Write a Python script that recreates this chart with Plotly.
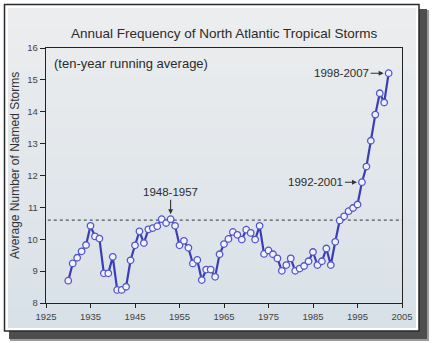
import plotly.graph_objects as go

years = list(range(1930, 2003))
storms = [8.70, 9.24, 9.42, 9.62, 9.82, 10.42, 10.09, 10.02, 8.93, 8.93,
          9.45, 8.41, 8.41, 8.51, 9.34, 9.81, 10.25, 9.88, 10.31, 10.35,
          10.41, 10.63, 10.51, 10.63, 10.42, 9.81, 9.95, 9.73, 9.24, 9.35,
          8.72, 9.05, 9.05, 8.82, 9.53, 9.85, 10.01, 10.23, 10.14, 9.99,
          10.30, 10.20, 9.99, 10.42, 9.54, 9.65, 9.53, 9.40, 9.01, 9.19,
          9.40, 9.01, 9.08, 9.16, 9.31, 9.60, 9.19, 9.31, 9.71, 9.19,
          9.92, 10.59, 10.72, 10.88, 10.98, 11.09, 11.79, 12.28, 13.09, 13.91,
          14.58, 14.29, 15.21]
long_term_mean = 10.6
x_ticks = [1925, 1935, 1945, 1955, 1965, 1975, 1985, 1995, 2005]
y_ticks = [8, 9, 10, 11, 12, 13, 14, 15, 16]
callouts = [("1948-1957", 1953, 0, -27), ("1992-2001", 1996, -46, 0), ("1998-2007", 2002, -47, 0)]

W, H = 432, 343
L, R, T, B = 46, 30, 48, 40
PW, PH = W - L - R, H - T - B

def px(x):
    return (x - L) / PW

def py(y):
    return (H - B - y) / PH

FONT = "Liberation Sans, Arial, sans-serif"

fig = go.Figure()
fig.add_trace(go.Scatter(
    x=years, y=storms, mode="lines+markers",
    line=dict(color="#3a3db8", width=2.2),
    marker=dict(symbol="circle", size=6.5, color="#f2f3ff",
                line=dict(color="#5256cc", width=1.3)),
    showlegend=False, cliponaxis=False))

shapes = []
# drop shadow
shapes.append(dict(type="rect", xref="paper", yref="paper", x0=px(10), x1=px(429), y0=py(341), y1=py(10),
                   fillcolor="#9a9a9a", line=dict(width=0), layer="below"))
shapes.append(dict(type="rect", xref="paper", yref="paper", x0=px(9), x1=px(427), y0=py(339), y1=py(9),
                   fillcolor="#4e4e4e", line=dict(width=0), layer="below"))
# frame
shapes.append(dict(type="rect", xref="paper", yref="paper", x0=px(4.5), x1=px(419), y0=py(331), y1=py(4.5),
                   fillcolor="#ffffff", line=dict(color="#2a2a2a", width=1.5), layer="below"))
# gradient panel
n = 32
top_c = (236, 237, 238)
bot_c = (216, 225, 232)
y_top, y_bot = 8.0, 328.0
for i in range(n):
    t = i / (n - 1)
    c = tuple(int(round(top_c[k] + (bot_c[k] - top_c[k]) * t)) for k in range(3))
    ya = y_top + (y_bot - y_top) * i / n
    yb = y_top + (y_bot - y_top) * (i + 1) / n + 0.6
    shapes.append(dict(type="rect", xref="paper", yref="paper", x0=px(8), x1=px(416),
                       y0=py(min(yb, y_bot)), y1=py(ya),
                       fillcolor="rgb(%d,%d,%d)" % c, line=dict(width=0), layer="below"))
# long-term mean dotted line
shapes.append(dict(type="line", xref="paper", yref="y", x0=0.005, x1=1, y0=long_term_mean, y1=long_term_mean,
                   line=dict(color="#555555", width=1.2, dash="dot"), layer="below"))

annotations = [
    dict(text="Annual Frequency of North Atlantic Tropical Storms", xref="paper", yref="paper",
         x=px(224), y=py(33), xanchor="center", yanchor="middle", showarrow=False,
         font=dict(family=FONT, size=13.5, color="#2b2b2b")),
    dict(text="(ten-year running average)", xref="paper", yref="paper",
         x=px(52), y=py(63), xanchor="left", yanchor="middle", showarrow=False,
         font=dict(family=FONT, size=13, color="#2b2b2b")),
    dict(text="Average Number of Named Storms", xref="paper", yref="paper",
         x=px(15), y=py(166), xanchor="center", yanchor="middle", showarrow=False, textangle=-90,
         font=dict(family=FONT, size=12, color="#333333")),
]
for label, yr, axp, ayp in callouts:
    annotations.append(dict(text=label, x=yr, y=storms[years.index(yr)], xref="x", yref="y",
                            ax=axp, ay=ayp, showarrow=True, arrowhead=2, arrowsize=0.9,
                            arrowwidth=1.1, arrowcolor="#333333", standoff=5,
                            font=dict(family=FONT, size=11.5, color="#2b2b2b")))

fig.update_layout(
    width=W, height=H, margin=dict(l=L, r=R, t=T, b=B, pad=0),
    paper_bgcolor="#ffffff", plot_bgcolor="rgba(0,0,0,0)",
    shapes=shapes, annotations=annotations,
    xaxis=dict(range=[1925, 2005], tickvals=x_ticks, ticktext=[str(v) for v in x_ticks],
               showgrid=False, zeroline=False, showline=True, mirror=True,
               linecolor="#222222", linewidth=1.4, ticks="outside", ticklen=4, tickwidth=1.3,
               tickcolor="#222222", tickfont=dict(family=FONT, size=9.5, color="#444444")),
    yaxis=dict(range=[8, 16], tickvals=y_ticks, ticktext=[str(v) for v in y_ticks],
               showgrid=False, zeroline=False, showline=True, mirror=True,
               linecolor="#222222", linewidth=1.4, ticks="outside", ticklen=5, tickwidth=1.3,
               tickcolor="#222222", tickfont=dict(family=FONT, size=9.5, color="#444444")),
)

fig.write_html("out.html")
